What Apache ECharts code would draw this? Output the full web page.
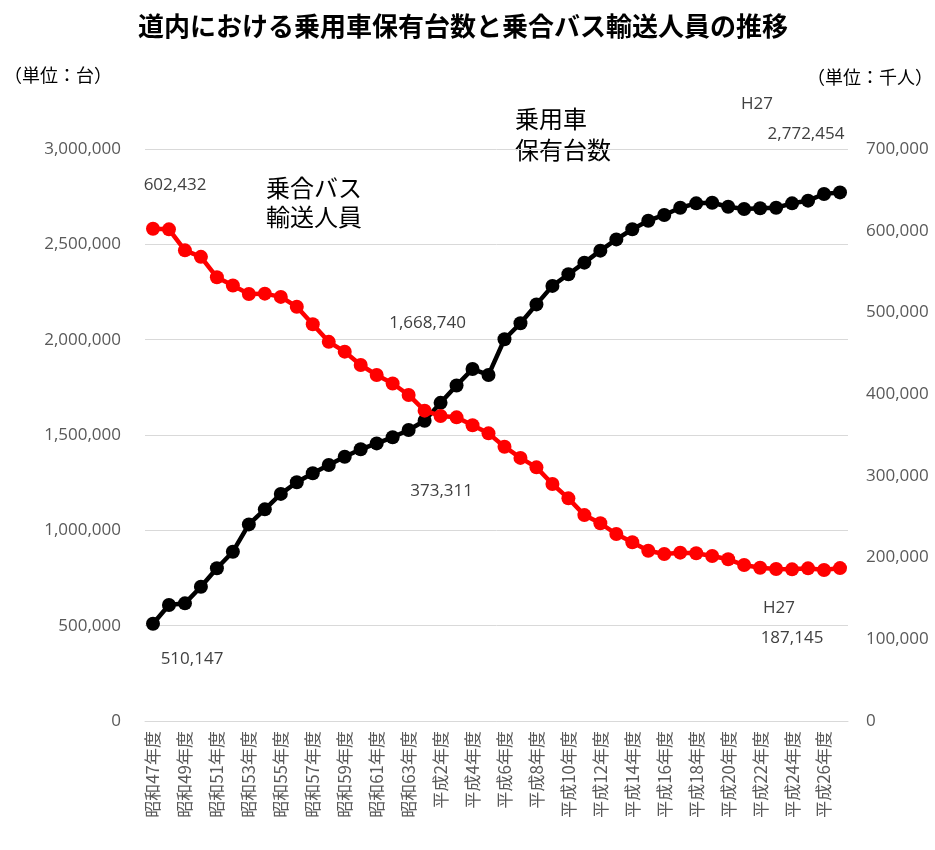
<!DOCTYPE html>
<html>
<head>
<meta charset="utf-8">
<script src="https://cdn.jsdelivr.net/npm/echarts@6/dist/echarts.min.js"></script>
<style>
  html, body { margin: 0; padding: 0; background: #fff; }
  #main { width: 935px; height: 850px; }
</style>
</head>
<body>
<div id="main"></div>
<script>
  // 年度（昭和47年度〜平成27年度）
  var categories = [
    '昭和47年度', '昭和48年度', '昭和49年度', '昭和50年度', '昭和51年度', '昭和52年度',
    '昭和53年度', '昭和54年度', '昭和55年度', '昭和56年度', '昭和57年度', '昭和58年度',
    '昭和59年度', '昭和60年度', '昭和61年度', '昭和62年度', '昭和63年度', '平成元年度',
    '平成2年度', '平成3年度', '平成4年度', '平成5年度', '平成6年度', '平成7年度',
    '平成8年度', '平成9年度', '平成10年度', '平成11年度', '平成12年度', '平成13年度',
    '平成14年度', '平成15年度', '平成16年度', '平成17年度', '平成18年度', '平成19年度',
    '平成20年度', '平成21年度', '平成22年度', '平成23年度', '平成24年度', '平成25年度',
    '平成26年度', '平成27年度'
  ];
  // 乗用車保有台数（台）
  var carData = [
    510147, 608000, 617000, 704000, 801000, 888000, 1031000, 1110000, 1191000, 1252000,
    1299000, 1343000, 1386000, 1425000, 1456000, 1488000, 1526000, 1575000, 1668740, 1760000,
    1846000, 1815000, 2002000, 2086000, 2185000, 2282000, 2343000, 2404000, 2467000, 2526000,
    2579000, 2624000, 2654000, 2692000, 2715000, 2718000, 2697000, 2685000, 2689000, 2692000,
    2715000, 2729000, 2764000, 2772454
  ];
  // 乗合バス輸送人員（千人）
  var busData = [
    602432, 601700, 576000, 568000, 543000, 533000, 522600, 523000, 519000, 507000,
    485500, 464000, 452000, 435700, 423400, 413000, 399000, 379800, 373311, 371600,
    362000, 352000, 335700, 322000, 310400, 290000, 272500, 252000, 242000, 228800,
    218700, 208400, 204400, 206000, 205200, 202000, 197900, 190900, 187600, 186000,
    185600, 186800, 184800, 187145
  ];
  var leftTicks = [0, 500000, 1000000, 1500000, 2000000, 2500000, 3000000];
  var rightTicks = [0, 100000, 200000, 300000, 400000, 500000, 600000, 700000];

  var numFont = '"Open Sans", "Noto Sans CJK JP", sans-serif';
  var jpFont = '"Noto Sans CJK JP", sans-serif';
  var last = categories.length - 1;

  function fmt(v) {
    return v.toLocaleString('en-US');
  }

  // 注記（データ点に付けるラベル）
  function note(idx, arr, text, offset) {
    return {
      name: text,
      coord: [categories[idx], arr[idx]],
      label: { offset: offset }
    };
  }

  var myChart = echarts.init(document.getElementById('main'));

  var option = {
    animation: false,
    title: {
      text: '道内における乗用車保有台数と乗合バス輸送人員の推移',
      left: 133,
      top: 8,
      textStyle: { fontFamily: jpFont, fontSize: 26, fontWeight: 'bold', color: '#000' }
    },
    grid: { left: 145, right: 87, top: 149, bottom: 129 },
    graphic: [
      { type: 'text', left: 4, top: 66, style: { text: '（単位：台）', font: '18px ' + jpFont, fill: '#000' } },
      { type: 'text', right: 2, top: 68, style: { text: '（単位：千人）', font: '18px ' + jpFont, fill: '#000' } },
      { type: 'text', left: 266, top: 173, style: { text: '乗合バス\n輸送人員', font: '24px ' + jpFont, lineHeight: 29, fill: '#000' } },
      { type: 'text', left: 515, top: 103, style: { text: '乗用車\n保有台数', font: '24px ' + jpFont, lineHeight: 31, fill: '#000' } }
    ],
    xAxis: {
      type: 'category',
      data: categories,
      boundaryGap: true,
      axisLine: { show: true, lineStyle: { color: '#d9d9d9', width: 1 } },
      axisTick: { show: false },
      axisLabel: {
        interval: 1,
        rotate: 90,
        margin: 10,
        color: '#595959',
        fontFamily: jpFont,
        fontSize: 17
      }
    },
    yAxis: [
      {
        type: 'value',
        min: leftTicks[0],
        max: leftTicks[leftTicks.length - 1],
        interval: leftTicks[1] - leftTicks[0],
        axisLine: { show: false },
        axisTick: { show: false },
        splitLine: { lineStyle: { color: '#d9d9d9', width: 1 } },
        axisLabel: {
          margin: 24,
          color: '#595959',
          fontFamily: numFont,
          fontSize: 17,
          formatter: function (v) { return fmt(v); }
        }
      },
      {
        type: 'value',
        min: rightTicks[0],
        max: rightTicks[rightTicks.length - 1],
        interval: rightTicks[1] - rightTicks[0],
        axisLine: { show: false },
        axisTick: { show: false },
        splitLine: { show: false },
        axisLabel: {
          margin: 18,
          color: '#595959',
          fontFamily: numFont,
          fontSize: 17,
          formatter: function (v) { return fmt(v); }
        }
      }
    ],
    series: [
      {
        name: '乗用車保有台数',
        type: 'line',
        yAxisIndex: 0,
        data: carData,
        symbol: 'circle',
        symbolSize: 14,
        showSymbol: true,
        showAllSymbol: true,
        lineStyle: { color: '#000', width: 4.5 },
        itemStyle: { color: '#000' },
        markPoint: {
          symbol: 'circle',
          symbolSize: 1,
          itemStyle: { color: 'rgba(0,0,0,0)' },
          label: {
            show: true,
            position: 'inside',
            formatter: '{b}',
            color: '#404040',
            fontFamily: numFont,
            fontSize: 17
          },
          data: [
            note(0, carData, fmt(carData[0]), [39, 35]),
            note(18, carData, fmt(carData[18]), [-13, -80]),
            note(last, carData, fmt(carData[last]), [-34, -58]),
            note(last, carData, 'H27', [-83, -88])
          ]
        }
      },
      {
        name: '乗合バス輸送人員',
        type: 'line',
        yAxisIndex: 1,
        data: busData,
        symbol: 'circle',
        symbolSize: 14,
        showSymbol: true,
        showAllSymbol: true,
        lineStyle: { color: '#ff0000', width: 4.5 },
        itemStyle: { color: '#ff0000' },
        markPoint: {
          symbol: 'circle',
          symbolSize: 1,
          itemStyle: { color: 'rgba(0,0,0,0)' },
          label: {
            show: true,
            position: 'inside',
            formatter: '{b}',
            color: '#404040',
            fontFamily: numFont,
            fontSize: 17
          },
          data: [
            note(0, busData, fmt(busData[0]), [22, -44]),
            note(18, busData, fmt(busData[18]), [1, 75]),
            note(last, busData, 'H27', [-61, 40]),
            note(last, busData, fmt(busData[last]), [-48, 70])
          ]
        }
      }
    ]
  };

  myChart.setOption(option);
</script>
</body>
</html>
